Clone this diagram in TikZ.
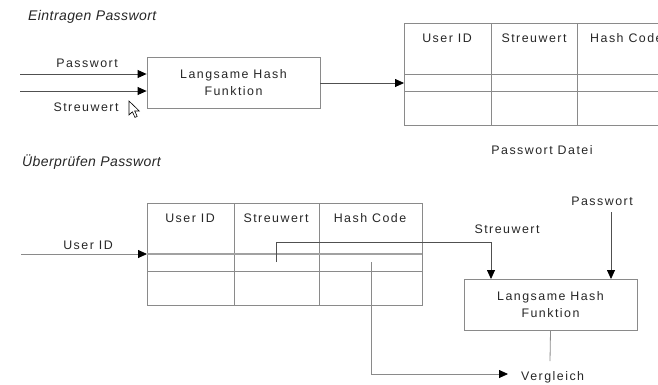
\documentclass[tikz,border=0pt]{standalone}
\usepackage{fontspec}
\setmainfont{Liberation Sans}[LetterSpace=12]
\newfontfamily\headfont{Liberation Sans}[LetterSpace=3]
\usetikzlibrary{arrows.meta}
\definecolor{tline}{HTML}{8A8A8A}
\definecolor{aline}{HTML}{505050}
\tikzset{
  lbl/.style={inner sep=0pt, font=\fontsize{12.4}{17}\selectfont, text=black!85},
  head/.style={inner sep=0pt, anchor=west, font=\headfont\fontsize{14}{17}\selectfont\itshape, text=black!85},
  procbox/.style={draw=tline, line width=0.8pt, minimum width=173pt, minimum height=51pt, inner sep=0pt, align=center, font=\fontsize{12.4}{17}\selectfont, text=black!85},
  tbl/.style={draw=tline, line width=0.8pt},
  conn/.style={draw=aline, line width=0.8pt},
  arr/.style={conn, -{Triangle[length=9pt,width=8pt,color=black,fill=black]}},
}
\begin{document}
\begin{tikzpicture}[x=1pt,y=-1pt]
\useasboundingbox (0,0) rectangle (658,384);

% ---------- top: Eintragen Passwort ----------
\node[head] (h1) at (28,17) {Eintragen Passwort};

\node[procbox] (box1) at (233.5,82.5) {Langsame Hash\\Funktion};
\coordinate (pw1) at (20,74);
\coordinate (sw1) at (20,91);
\draw[arr] (pw1) -- (pw1 -| box1.west);
\draw[arr] (sw1) -- (sw1 -| box1.west);
\node[lbl] (pwl1) at (87,63) {Passwort};
\node[lbl] (swl1) at (86,107) {Streuwert};

% table 1
\draw[tbl] (404,23) rectangle (700,125);
\draw[tbl] (404,74) -- (700,74);
\draw[tbl] (404,91) -- (700,91);
\draw[tbl] (491,23) -- (491,125);
\draw[tbl] (577,23) -- (577,125);
\coordinate (t1in) at (404,83);
\draw[arr] (box1.east |- t1in) -- (t1in);
\node[lbl] (t1a) at (447,38) {User ID};
\node[lbl] (t1b) at (534,38) {Streuwert};
\node[lbl, anchor=west] (t1c) at (590,38) {Hash Code};
\node[lbl] (t1cap) at (542,150) {Passwort Datei};

% mouse cursor
\draw[black, line width=0.6pt, fill=white, line join=miter]
  (129,101) -- ++(0,14) -- ++(3.4,-3.2) -- ++(2.6,5.6) -- ++(2.2,-1) -- ++(-2.5,-5.4) -- ++(4.6,0) -- cycle;

% ---------- bottom: Überprüfen Passwort ----------
\node[head] (h2) at (22,162) {Überprüfen Passwort};

% table 2
\draw[tbl] (147,203) rectangle (422,305);
\draw[tbl] (147,271) -- (422,271);
\draw[tbl] (234,203) -- (234,305);
\draw[tbl] (319,203) -- (319,305);
\draw[tbl, line width=1.1pt, draw=tline!80] (147,254) -- (422,254);
\node[lbl] (t2a) at (190,218) {User ID};
\node[lbl] (t2b) at (276,218) {Streuwert};
\node[lbl] (t2c) at (370,218) {Hash Code};

\coordinate (uid0) at (21,254);
\coordinate (uid1) at (147,254);
\draw[arr, draw=tline] (uid0) -- (uid1);
\node[lbl] (uidl) at (88,245) {User ID};

% box 2
\node[procbox] (box2) at (550.5,305) {Langsame Hash\\Funktion};

\coordinate (swsrc) at (276,262);
\coordinate (swin) at (491,279);
\draw[arr] (swsrc) |- (491,242) -- (swin);
\node[lbl] (swl2) at (507,229) {Streuwert};

\node[lbl] (pwl2) at (602,201) {Passwort};
\coordinate (pwin) at (611,279);
\draw[arr] (611,212) -- (pwin);

\node[lbl, anchor=west] (vgl) at (521,377) {Vergleich};
\coordinate (hsrc) at (371,262);
\coordinate (vglin) at (508,374);
\draw[arr, draw=tline] (hsrc) |- (vglin);
\draw[conn, draw=tline] (box2.south) -- (550,361);
\end{tikzpicture}
\end{document}
